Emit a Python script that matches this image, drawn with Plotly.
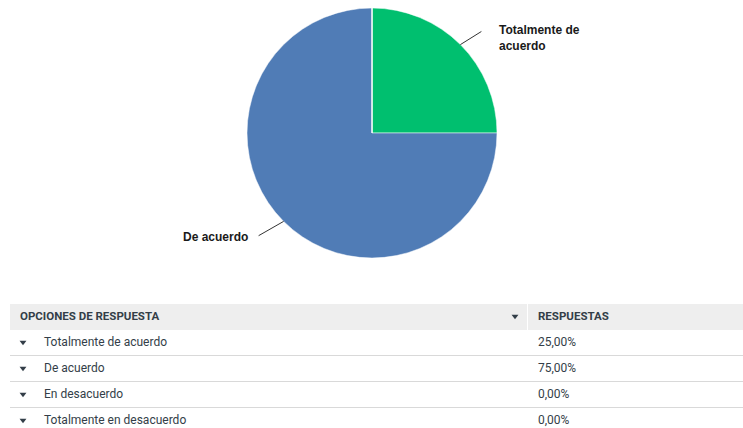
import math
import plotly.graph_objects as go

# ---------------- data ----------------
categories = ["Totalmente de acuerdo", "De acuerdo", "En desacuerdo", "Totalmente en desacuerdo"]
percent_values = [25.0, 75.0, 0.0, 0.0]
pie_labels = ["Totalmente de<br>acuerdo", "De acuerdo", "", ""]
value_labels = ["25,00%", "75,00%", "0,00%", "0,00%"]
header_labels = ["OPCIONES DE RESPUESTA", "RESPUESTAS"]
slice_colors = ["#00BF6F", "#507CB6", "#F9BE00", "#6BC8CD"]

W, H = 743, 428
TEXT = "#333e48"

# pie geometry (pixels)
cx, cy, R = 372, 133, 125

fig = go.Figure()

fig.add_trace(go.Pie(
    labels=categories, values=percent_values,
    sort=False, direction="clockwise", rotation=0,
    marker=dict(colors=slice_colors, line=dict(color="#ffffff", width=0.5)),
    textinfo="none", hoverinfo="label+percent", showlegend=False,
    domain=dict(x=[(cx - R) / W, (cx + R) / W], y=[1 - (cy + R) / H, 1 - (cy - R) / H]),
))

# ---------------- table (second axes) ----------------
rows = list(range(1, len(categories) + 1))
fig.add_trace(go.Scatter(
    x=[23] * len(rows), y=[r - 0.03 for r in rows], mode="markers",
    marker=dict(symbol="triangle-down", size=6, color=TEXT),
    xaxis="x", yaxis="y", hoverinfo="skip", showlegend=False))
fig.add_trace(go.Scatter(
    x=[515], y=[-0.03], mode="markers",
    marker=dict(symbol="triangle-down", size=6, color=TEXT),
    xaxis="x", yaxis="y", hoverinfo="skip", showlegend=False))
fig.add_trace(go.Scatter(
    x=[44] * len(rows), y=rows, mode="text", text=categories,
    textposition="middle right",
    textfont=dict(family="Roboto", size=12, color=TEXT),
    xaxis="x", yaxis="y", hoverinfo="skip", showlegend=False))
fig.add_trace(go.Scatter(
    x=[538] * len(rows), y=rows, mode="text", text=value_labels,
    textposition="middle right",
    textfont=dict(family="Roboto", size=12, color=TEXT),
    xaxis="x", yaxis="y", hoverinfo="skip", showlegend=False))
fig.add_trace(go.Scatter(
    x=[20, 538], y=[0, 0], mode="text",
    text=["<b>%s</b>" % h for h in header_labels],
    textposition="middle right",
    textfont=dict(family="Roboto", size=11.5, color=TEXT),
    xaxis="x", yaxis="y", hoverinfo="skip", showlegend=False))

# header background
fig.add_shape(type="rect", xref="x", yref="y", x0=10, x1=527, y0=-0.5, y1=0.5,
              fillcolor="#eeeeee", line=dict(width=0), layer="below")
fig.add_shape(type="rect", xref="x", yref="y", x0=528, x1=743, y0=-0.5, y1=0.5,
              fillcolor="#eeeeee", line=dict(width=0), layer="below")

# ---------------- pie labels with leader lines ----------------
total = sum(percent_values)
cum = 0.0
tips = []
for v in percent_values:
    th = 2 * math.pi * (cum + v / 2) / total
    tips.append((cx + R * math.sin(th), cy - R * math.cos(th)))
    cum += v

label_specs = [
    # (text anchor px, xanchor, tail offset px)
    ((497, 38), "left", (24, -15)),
    ((250, 237), "right", (-28, 16)),
]
for i, (pos, xa, off) in enumerate(label_specs):
    tx, ty = tips[i]
    fig.add_annotation(x=tx / W, y=1 - ty / H, xref="paper", yref="paper",
                       text=" ", showarrow=True, arrowhead=0, arrowwidth=1,
                       arrowcolor="#333333", ax=off[0], ay=off[1], standoff=0)
    fig.add_annotation(x=pos[0] / W, y=1 - pos[1] / H, xref="paper", yref="paper",
                       text="<b>%s</b>" % pie_labels[i], showarrow=False,
                       xanchor=xa, yanchor="middle", align="left",
                       font=dict(family="Liberation Sans, Arial", size=12, color="#1a1a1a"))

fig.update_layout(
    width=W, height=H, margin=dict(l=0, r=0, t=0, b=0),
    paper_bgcolor="white", plot_bgcolor="white",
    xaxis=dict(domain=[10 / W, 1], range=[10, 743], showgrid=False, zeroline=False,
               showticklabels=False, showline=False, fixedrange=True),
    yaxis=dict(domain=[0, 1 - 304 / H], range=[4.27, -0.5], tickvals=[1.5, 2.5, 3.5],
               showgrid=True, gridcolor="#d9d9d9", gridwidth=1, zeroline=False,
               showticklabels=False, ticks="", showline=False, fixedrange=True),
)

fig.write_html("out.html", config={"displayModeBar": False},
               post_script="document.body.style.margin='0px';document.body.style.overflow='hidden';")
